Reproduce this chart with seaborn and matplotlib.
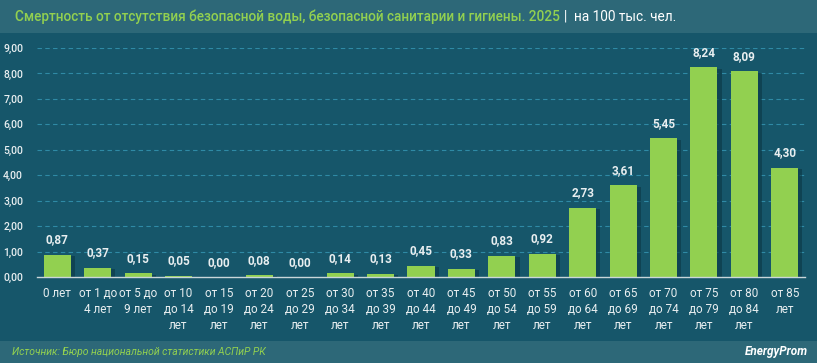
import matplotlib
matplotlib.use("Agg")
import matplotlib.pyplot as plt
import matplotlib.patheffects as pe
import seaborn as sns
import pandas as pd
import numpy as np

categories = ["0 лет", "от 1 до\n4 лет", "от 5 до\n9 лет", "от 10\nдо 14\nлет", "от 15\nдо 19\nлет",
              "от 20\nдо 24\nлет", "от 25\nдо 29\nлет", "от 30\nдо 34\nлет", "от 35\nдо 39\nлет",
              "от 40\nдо 44\nлет", "от 45\nдо 49\nлет", "от 50\nдо 54\nлет", "от 55\nдо 59\nлет",
              "от 60\nдо 64\nлет", "от 65\nдо 69\nлет", "от 70\nдо 74\nлет", "от 75\nдо 79\nлет",
              "от 80\nдо 84\nлет", "от 85\nлет"]
values = [0.87, 0.37, 0.15, 0.05, 0.00, 0.08, 0.00, 0.14, 0.13, 0.45, 0.33, 0.83, 0.92,
          2.73, 3.61, 5.45, 8.24, 8.09, 4.30]
yticks = [0, 1, 2, 3, 4, 5, 6, 7, 8, 9]

title_main = "Смертность от отсутствия безопасной воды, безопасной санитарии и гигиены. 2025"
title_unit = "на 100 тыс. чел."
source = "Источник: Бюро национальной статистики АСПиР РК"

BG = "#16566a"
HEADER = "#2d6878"
GREEN = "#92d050"
GRID = "#2f8aa5"
TXT = "#e8eef0"
FONT = ["Roboto", "DejaVu Sans"]

sns.set_theme(style="white")
plt.rcParams["font.family"] = FONT

fig = plt.figure(figsize=(8.17, 3.63), dpi=100)
fig.patch.set_facecolor(BG)

# header and footer bands
fig.add_artist(plt.Rectangle((0, 1 - 33 / 363), 1, 33 / 363, transform=fig.transFigure,
                             facecolor=HEADER, edgecolor="none", zorder=0))
fig.add_artist(plt.Rectangle((0, 0), 1, 22 / 363, transform=fig.transFigure,
                             facecolor=HEADER, edgecolor="none", zorder=0))

ax = fig.add_axes([37 / 817, (363 - 277) / 363, 768 / 817, 229 / 363])
ax.set_facecolor(BG)

df = pd.DataFrame({"cat": categories, "val": values})
sns.barplot(data=df, x="cat", y="val", color=GREEN, saturation=1, width=0.67, ax=ax,
            zorder=3, edgecolor="none", linewidth=0)
for p in ax.patches:
    p.set_path_effects([pe.SimplePatchShadow(offset=(3, -1), shadow_rgbFace="#0b3744", alpha=0.6),
                        pe.Normal()])

ax.set_ylim(0, 9)
ax.set_xlim(-0.5, len(categories) - 0.5)
ax.set_yticks(yticks)
ax.set_yticklabels([f"{t:.2f}".replace(".", ",") for t in yticks], color=TXT, fontsize=7.5,
                   fontweight="medium")
ax.tick_params(axis="y", length=0, pad=10)
ax.tick_params(axis="x", length=0, pad=7)
for lab in ax.get_xticklabels():
    lab.set_color(TXT)
    lab.set_fontsize(8.5)
    lab.set_linespacing(1.3)
    lab.set_verticalalignment("top")
ax.set_xlabel("")
ax.set_ylabel("")
for t in yticks[1:]:
    ax.axhline(t, color=GRID, lw=0.8, ls=(0, (4, 3)), zorder=1)
for s in ["top", "right", "left"]:
    ax.spines[s].set_visible(False)
ax.spines["bottom"].set_color("#c9d6da")
ax.spines["bottom"].set_linewidth(1.0)
ax.spines["bottom"].set_zorder(4)

for c in ax.containers:
    ax.bar_label(c, labels=[f"{v:.2f}".replace(".", ",") for v in values], padding=6,
                 color=TXT, fontsize=8.5, fontweight="bold")

# title
t1 = fig.text(15 / 817, 1 - 17 / 363, title_main, color=GREEN, fontsize=9.8,
              fontweight="medium", va="center", ha="left")
fig.canvas.draw()
bb = t1.get_window_extent()
x2 = bb.x1 / 817
fig.text(x2 + 4 / 817, 1 - 17 / 363, "|  " + title_unit, color="white", fontsize=9.8,
         va="center", ha="left")

fig.text(12 / 817, 11 / 363, source, color=GREEN, fontsize=7.5, style="italic",
         va="center", ha="left")
fig.text(808 / 817, 11 / 363, "EnergyProm", color="white", fontsize=8.5, style="italic",
         fontweight="bold", va="center", ha="right")

fig.savefig("out.png", dpi=100, facecolor=BG)
